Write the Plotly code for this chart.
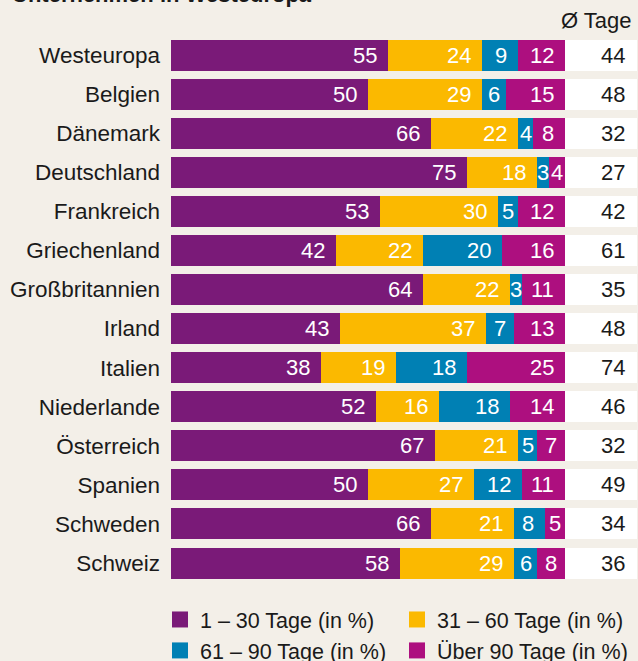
import plotly.graph_objects as go

countries = ["Westeuropa", "Belgien", "Dänemark", "Deutschland", "Frankreich",
             "Griechenland", "Großbritannien", "Irland", "Italien", "Niederlande",
             "Österreich", "Spanien", "Schweden", "Schweiz"]
d1_30 = [55, 50, 66, 75, 53, 42, 64, 43, 38, 52, 67, 50, 66, 58]
d31_60 = [24, 29, 22, 18, 30, 22, 22, 37, 19, 16, 21, 27, 21, 29]
d61_90 = [9, 6, 4, 3, 5, 20, 3, 7, 18, 18, 5, 12, 8, 6]
d90p = [12, 15, 8, 4, 12, 16, 11, 13, 25, 14, 7, 11, 5, 8]
avg_days = [44, 48, 32, 27, 42, 61, 35, 48, 74, 46, 32, 49, 34, 36]

series_names = ["1 – 30 Tage (in %)", "31 – 60 Tage (in %)",
                "61 – 90 Tage (in %)", "Über 90 Tage (in %)"]
series_vals = [d1_30, d31_60, d61_90, d90p]
colors = ["#7a1a78", "#fbb900", "#0080b4", "#ad0f7f"]

W, H = 638, 661
BG = "#f3efe8"
FONT = "Liberation Sans, Arial, Helvetica, sans-serif"
FS = 22
FS_LAB = 22.5
FS_LEG = 21.5
TXT = "#1a1a1a"

x0px, x1px = 171, 565
top_px, bot_px = 35.5, 582.6
px_per_unit = (x1px - x0px) / 100.0

fig = go.Figure()

for name, vals, col in zip(series_names, series_vals, colors):
    fig.add_trace(go.Bar(
        y=countries, x=vals, orientation="h", name=name,
        marker=dict(color=col, line=dict(width=0)),
        showlegend=False, hoverinfo="x+y",
        xaxis="x", yaxis="y",
    ))

# white column for average days
fig.add_trace(go.Bar(
    y=countries, x=[1] * len(countries), orientation="h",
    marker=dict(color="white", line=dict(width=0)),
    showlegend=False, hoverinfo="skip", xaxis="x2", yaxis="y",
))

# legend entries
for name, col in zip(series_names, colors):
    fig.add_trace(go.Scatter(
        x=[None], y=[None], mode="markers", name=name,
        marker=dict(symbol="square", size=18, color=col, line=dict(width=0)),
        showlegend=True, xaxis="x", yaxis="y",
    ))

annotations = []
pad = 9
for i, c in enumerate(countries):
    cum = 0
    for vals in series_vals:
        v = vals[i]
        start = min(cum, 100)
        cum += v
        end = min(cum, 100)
        wpx = (end - start) * px_per_unit
        tw = len(str(v)) * 0.556 * FS
        if wpx >= tw + 2 * pad:
            annotations.append(dict(x=end, y=c, xref="x", yref="y", text=str(v),
                                    xanchor="right", xshift=-pad, showarrow=False,
                                    font=dict(family=FONT, size=FS, color="white")))
        else:
            annotations.append(dict(x=(start + end) / 2.0, y=c, xref="x", yref="y", text=str(v),
                                    xanchor="center", showarrow=False,
                                    font=dict(family=FONT, size=FS, color="white")))
    annotations.append(dict(x=1, y=c, xref="x2", yref="y", text=str(avg_days[i]),
                            xanchor="right", xshift=-10, showarrow=False,
                            font=dict(family=FONT, size=FS, color=TXT)))

annotations.append(dict(x=10 / W, y=1 - 9 / H, xref="paper", yref="paper",
                        text="<b>Unternehmen in Westeuropa</b>", xanchor="left",
                        yanchor="bottom", showarrow=False,
                        font=dict(family=FONT, size=FS, color=TXT)))
annotations.append(dict(x=634 / W, y=1 - 21 / H, xref="paper", yref="paper",
                        text="Ø Tage", xanchor="right", yanchor="middle",
                        showarrow=False,
                        font=dict(family=FONT, size=FS, color=TXT)))

fig.update_layout(
    width=W, height=H,
    margin=dict(l=0, r=0, t=0, b=0, pad=0, autoexpand=False),
    paper_bgcolor=BG, plot_bgcolor=BG,
    barmode="stack", bargap=1 - 31 / 39.08,
    showlegend=True,
    legend=dict(orientation="h", x=160 / W, xanchor="left",
                y=1 - 599 / H, yanchor="top",
                entrywidth=192, entrywidthmode="pixels",
                font=dict(family=FONT, size=FS_LEG, color=TXT),
                bgcolor="rgba(0,0,0,0)", itemsizing="trace",
                tracegroupgap=0, traceorder="normal"),
    xaxis=dict(domain=[x0px / W, x1px / W], range=[0, 100], visible=False,
               fixedrange=True),
    xaxis2=dict(domain=[x1px / W, 637 / W], range=[0, 1], visible=False,
                anchor="y", fixedrange=True),
    yaxis=dict(domain=[1 - bot_px / H, 1 - top_px / H],
               autorange="reversed", showgrid=False, zeroline=False,
               showline=False, ticks="", ticklabelstandoff=10,
               tickfont=dict(family=FONT, size=FS_LAB, color=TXT), fixedrange=True),
    annotations=annotations,
)

fig.write_html("out.html", config={"displayModeBar": False},
               post_script="document.body.style.margin='0';document.body.style.overflow='hidden';")
